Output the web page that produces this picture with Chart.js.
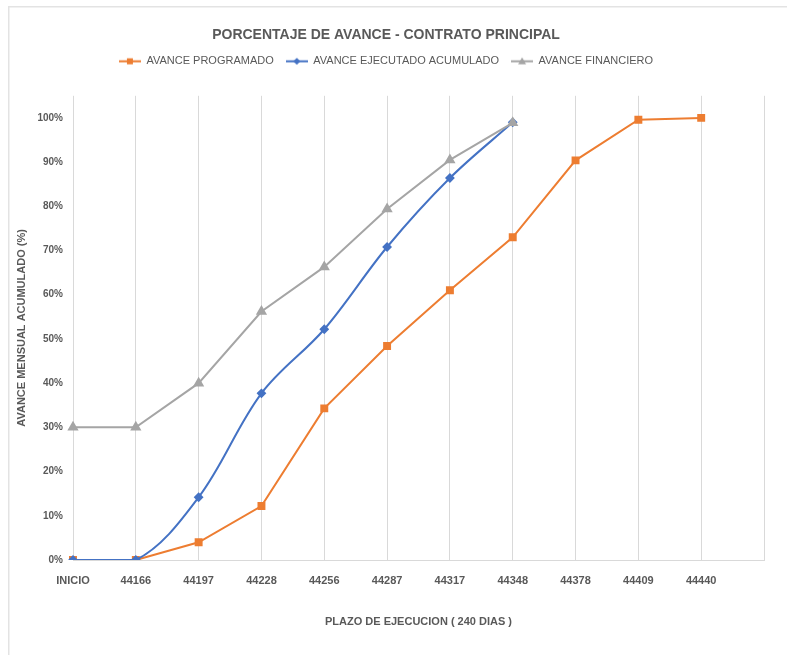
<!DOCTYPE html>
<html>
<head>
<meta charset="utf-8">
<title>Porcentaje de avance</title>
<script src="https://cdn.jsdelivr.net/npm/chart.js@4.4.1/dist/chart.umd.min.js"></script>
<style>
  body { margin: 0; background: #fff; }
  #wrap { position: absolute; left: 0; top: 0; width: 787px; height: 655px; }
</style>
</head>
<body>
<div id="wrap"><canvas id="avanceChart" width="787" height="655"></canvas></div>
<script>
// Periodos del contrato (el ultimo queda vacio, Excel deja un hueco al final del eje)
const periodos = ['INICIO', '44166', '44197', '44228', '44256', '44287', '44317', '44348', '44378', '44409', '44440', ''];

// Avances acumulados en %
const avanceProgramado = [0, 0, 4, 12.2, 34.3, 48.4, 61.0, 73.0, 90.4, 99.6, 100];
const avanceEjecutado = [0, 0, 14.2, 37.7, 52.2, 70.8, 86.4, 99.0];
const avanceFinanciero = [30, 30, 40, 56.2, 66.3, 79.4, 90.5, 98.9];

const yTicks = [0, 10, 20, 30, 40, 50, 60, 70, 80, 90, 100];

const NARANJA = '#ED7D31';
const AZUL = '#4472C4';
const GRIS = '#A5A5A5';
const TEXTO = '#595959';
const FONT = '"Liberation Sans", Arial, sans-serif';

// Icono de leyenda: linea con el marcador al centro
function legendIcon(color, shape) {
    const c = document.createElement('canvas');
    c.width = 22;
    c.height = 11;
    const g = c.getContext('2d');
    g.strokeStyle = color;
    g.fillStyle = color;
    g.lineWidth = 2;
    g.beginPath();
    g.moveTo(0, 5.5);
    g.lineTo(22, 5.5);
    g.stroke();
    g.beginPath();
    if (shape === 'rect') {
        g.rect(8, 2.5, 6, 6);
    } else if (shape === 'rectRot') {
        g.moveTo(11, 2); g.lineTo(14.5, 5.5); g.lineTo(11, 9); g.lineTo(7.5, 5.5);
    } else {
        g.moveTo(11, 1.5); g.lineTo(15, 8.5); g.lineTo(7, 8.5);
    }
    g.closePath();
    g.fill();
    return c;
}

const legendIcons = [
    legendIcon(NARANJA, 'rect'),
    legendIcon(AZUL, 'rectRot'),
    legendIcon(GRIS, 'triangle')
];

// Marco gris claro alrededor del grafico
const chartFrame = {
    id: 'chartFrame',
    beforeDraw(chart) {
        const ctx = chart.ctx;
        ctx.save();
        ctx.fillStyle = '#e3e3e3';
        ctx.fillRect(8, 6, 779, 1.5);
        ctx.fillRect(8, 6, 1.5, 649);
        ctx.restore();
    }
};

// Espacio extra debajo de la leyenda
const legendSpace = {
    id: 'legendSpace',
    beforeInit(chart) {
        const fit = chart.legend.fit;
        chart.legend.fit = function () {
            fit.bind(chart.legend)();
            this.height += 19;
        };
    }
};

const ctx = document.getElementById('avanceChart').getContext('2d');

const avanceChart = new Chart(ctx, {
    type: 'line',
    data: {
        labels: periodos,
        datasets: [{
            label: 'AVANCE PROGRAMADO',
            data: avanceProgramado,
            borderColor: NARANJA,
            backgroundColor: NARANJA,
            borderWidth: 2,
            pointStyle: 'rect',
            pointRadius: 4.2,
            tension: 0,
            order: 3
        }, {
            label: 'AVANCE EJECUTADO ACUMULADO',
            data: avanceEjecutado,
            borderColor: AZUL,
            backgroundColor: AZUL,
            borderWidth: 2,
            pointStyle: 'rectRot',
            pointRadius: 3.5,
            tension: 0.35,
            order: 2
        }, {
            label: 'AVANCE FINANCIERO',
            data: avanceFinanciero,
            borderColor: GRIS,
            backgroundColor: GRIS,
            borderWidth: 2,
            pointStyle: 'triangle',
            pointRadius: 4.5,
            tension: 0,
            order: 1
        }]
    },
    options: {
        responsive: false,
        animation: false,
        layout: {
            padding: { left: 8, right: 23, top: 0, bottom: 0 }
        },
        plugins: {
            title: {
                display: true,
                text: 'PORCENTAJE DE AVANCE - CONTRATO PRINCIPAL',
                color: TEXTO,
                font: { family: FONT, size: 14, weight: 'bold' },
                padding: { top: 27, bottom: 0 }
            },
            legend: {
                position: 'top',
                labels: {
                    color: TEXTO,
                    font: { family: FONT, size: 11 },
                    usePointStyle: true,
                    pointStyleWidth: 22,
                    boxHeight: 11,
                    padding: 12,
                    sort: (a, b) => a.datasetIndex - b.datasetIndex,
                    generateLabels(chart) {
                        const items = Chart.defaults.plugins.legend.labels.generateLabels(chart);
                        items.forEach(item => {
                            item.pointStyle = legendIcons[item.datasetIndex];
                        });
                        return items;
                    }
                }
            },
            tooltip: { enabled: false }
        },
        scales: {
            x: {
                offset: false,
                grid: {
                    color: '#d9d9d9',
                    drawTicks: false
                },
                border: { color: '#d9d9d9' },
                ticks: {
                    color: TEXTO,
                    font: { family: FONT, size: 11, weight: 'bold' },
                    padding: 14,
                    maxRotation: 0,
                    autoSkip: false
                },
                title: {
                    display: true,
                    text: 'PLAZO DE EJECUCION ( 240 DIAS )',
                    color: TEXTO,
                    font: { family: FONT, size: 11, weight: 'bold' },
                    padding: { top: 0, bottom: 26 }
                },
                afterFit(scale) {
                    scale.height = 95;
                }
            },
            y: {
                min: 0,
                max: 105,
                grid: { display: false, drawTicks: false },
                border: { display: false },
                ticks: {
                    color: TEXTO,
                    font: { family: FONT, size: 10, weight: 'bold' },
                    padding: 10,
                    callback: v => v + '%'
                },
                afterBuildTicks(scale) {
                    scale.ticks = yTicks.map(v => ({ value: v }));
                },
                title: {
                    display: true,
                    text: 'AVANCE MENSUAL ACUMULADO (%)',
                    color: TEXTO,
                    font: { family: FONT, size: 11, weight: 'bold' },
                    padding: { top: 7, bottom: 0 }
                },
                afterFit(scale) {
                    scale.width = 65;
                }
            }
        }
    },
    plugins: [chartFrame, legendSpace]
});
</script>
</body>
</html>
